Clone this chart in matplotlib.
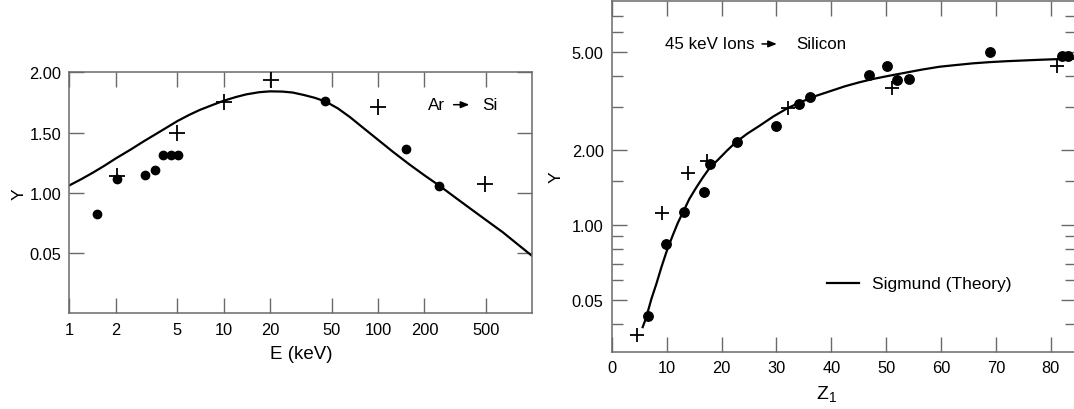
import matplotlib
matplotlib.use("Agg")
import matplotlib.pyplot as plt
from matplotlib.ticker import FixedLocator, FixedFormatter, NullFormatter

plt.rcParams["font.family"] = ["Liberation Sans", "DejaVu Sans"]
plt.rcParams["mathtext.fontset"] = "custom"
plt.rcParams["mathtext.rm"] = "Liberation Sans"

# ---- left panel: Ar -> Si, yield vs energy ----
e_dots = [1.515, 2.04, 3.07, 3.59, 4.03, 4.52, 5.08, 45.4, 151.5, 249]
y_dots = [0.824, 1.115, 1.151, 1.187, 1.314, 1.314, 1.314, 1.759, 1.364, 1.059]
e_plus = [2.03, 5.0, 10, 20.2, 100, 495]
y_plus = [1.142, 1.494, 1.751, 1.939, 1.709, 1.076]
e_curve = [1.0, 1.2, 1.43, 1.7, 2.0, 2.5, 3.0, 4.0, 5.0, 6.0, 7.0, 8.5, 10,
           12, 14, 17, 20, 24, 28, 33, 39, 46, 55, 66, 80, 100, 125, 160,
           200, 250, 310, 390, 500, 645, 800, 1000]
y_curve = [1.062, 1.115, 1.17, 1.228, 1.286, 1.36, 1.424, 1.52, 1.595, 1.648,
           1.688, 1.73, 1.764, 1.795, 1.817, 1.835, 1.842, 1.840, 1.832,
           1.812, 1.788, 1.756, 1.70, 1.627, 1.54, 1.44, 1.34, 1.235, 1.145,
           1.059, 0.97, 0.876, 0.775, 0.672, 0.575, 0.475]
e_ticks = [1, 2, 5, 10, 20, 50, 100, 200, 500]
e_ticklabels = ["1", "2", "5", "10", "20", "50", "100", "200", "500"]
yl_ticks = [0.5, 1.0, 1.5, 2.0]
yl_ticklabels = ["0.05", "1.00", "1.50", "2.00"]

# ---- right panel: 45 keV ions -> Silicon, yield vs Z1 ----
z_dots = [6.56, 9.84, 13.06, 16.77, 17.88, 22.71, 29.95, 34.03, 36.14,
          46.9, 50.1, 51.9, 54.1, 68.9, 82.0, 83.1]
yz_dots = [0.429, 0.839, 1.132, 1.355, 1.756, 2.156, 2.507, 3.077, 3.30,
           4.03, 4.39, 3.836, 3.87, 5.0, 4.80, 4.80]
z_plus = [4.6, 9.2, 13.9, 17.3, 32.1, 51.1, 81.2]
yz_plus = [0.361, 1.115, 1.63, 1.807, 2.98, 3.56, 4.39]
z_curve = [5.6, 6.0, 6.5, 7.2, 8.1, 9.0, 9.9, 11.0, 12.0, 13.0, 14.1, 15.3,
           16.6, 17.8, 19.5, 21.0, 22.6, 24.7, 26.9, 29.4, 32.0, 34.5, 37.2,
           40.0, 42.5, 45.0, 47.5, 50.5, 53.6, 56.6, 59.7, 62.7, 65.8, 68.8,
           71.9, 74.9, 77.9, 81.3, 84.7]
yz_curve = [0.388, 0.41, 0.445, 0.505, 0.58, 0.675, 0.776, 0.90, 1.02, 1.133,
            1.274, 1.41, 1.56, 1.70, 1.85, 2.0, 2.16, 2.34, 2.515, 2.74, 2.96,
            3.14, 3.32, 3.48, 3.63, 3.76, 3.88, 4.0, 4.12, 4.24, 4.35, 4.42,
            4.49, 4.54, 4.58, 4.61, 4.64, 4.67, 4.69]
z_ticks = [0, 10, 20, 30, 40, 50, 60, 70, 80]
yr_ticks = [0.5, 1.0, 2.0, 5.0]
yr_ticklabels = ["0.05", "1.00", "2.00", "5.00"]
yr_minor = [0.4, 0.6, 0.7, 0.8, 0.9, 1.5, 3, 4, 6, 7]

SPINE = "#6a6a6a"
ARROW = dict(arrowstyle="-|>,head_length=0.5,head_width=0.2",
             color="black", lw=1.1, shrinkA=0, shrinkB=0)

fig = plt.figure(figsize=(10.74, 4.10), dpi=100)
ax1 = fig.add_axes([0.0647, 0.2334, 0.4309, 0.5878])
ax2 = fig.add_axes([0.5698, 0.139, 0.4325, 0.8568])

for ax in (ax1, ax2):
    for sp in ax.spines.values():
        sp.set_color(SPINE)
        sp.set_linewidth(1.1)

# left
ax1.plot(e_curve, y_curve, color="black", lw=1.6, zorder=2)
ax1.plot(e_dots, y_dots, "o", color="black", ms=6, zorder=3)
ax1.plot(e_plus, y_plus, "+", color="black", ms=11, mew=1.3, zorder=3)
ax1.set_xscale("log")
ax1.set_xlim(1, 1000)
ax1.set_ylim(0, 2.0)
ax1.xaxis.set_major_locator(FixedLocator(e_ticks))
ax1.xaxis.set_major_formatter(FixedFormatter(e_ticklabels))
ax1.xaxis.set_minor_locator(FixedLocator([]))
ax1.xaxis.set_minor_formatter(NullFormatter())
ax1.yaxis.set_major_locator(FixedLocator(yl_ticks))
ax1.yaxis.set_major_formatter(FixedFormatter(yl_ticklabels))
ax1.tick_params(which="major", direction="in", length=10.5, width=1.0,
                color=SPINE, top=True, right=True, labelsize=11.8, pad=6)
ax1.set_xlabel("E (keV)", fontsize=13.5, labelpad=6)
ax1.set_ylabel("Y", fontsize=12.5, labelpad=2)
ax1.text(0.775, 0.8656, "Ar", transform=ax1.transAxes, fontsize=12.3,
         ha="left", va="center")
ax1.text(0.8907, 0.8656, "Si", transform=ax1.transAxes, fontsize=12.3,
         ha="left", va="center")
ax1.annotate("", xy=(0.864, 0.8656), xytext=(0.830, 0.8656),
             xycoords="axes fraction", arrowprops=ARROW)

# right
ax2.plot(z_curve, yz_curve, color="black", lw=1.6, zorder=2)
ax2.plot(z_dots, yz_dots, "o", color="black", ms=6.8, zorder=3)
ax2.plot(z_plus, yz_plus, "+", color="black", ms=10.5, mew=1.3, zorder=3)
ax2.set_yscale("log")
ax2.set_xlim(0, 84.7)
ax2.set_ylim(0.308, 8.03)
ax2.xaxis.set_major_locator(FixedLocator(z_ticks))
ax2.yaxis.set_major_locator(FixedLocator(yr_ticks))
ax2.yaxis.set_major_formatter(FixedFormatter(yr_ticklabels))
ax2.yaxis.set_minor_locator(FixedLocator(yr_minor))
ax2.yaxis.set_minor_formatter(NullFormatter())
ax2.tick_params(which="major", direction="in", length=11, width=1.0,
                color=SPINE, top=True, right=True, labelsize=11.8, pad=6)
ax2.tick_params(which="minor", direction="in", length=8, width=1.0,
                color=SPINE, right=True)
ax2.set_xlabel("Z$_1$", fontsize=14)
ax2.xaxis.set_label_coords(0.461, -0.09)
ax2.set_ylabel("Y", fontsize=12.5, labelpad=6)
ax2.text(0.114, 0.877, "45 keV Ions", transform=ax2.transAxes,
         fontsize=12.2, ha="left", va="center")
ax2.text(0.3976, 0.877, "Silicon", transform=ax2.transAxes,
         fontsize=12.2, ha="left", va="center")
ax2.annotate("", xy=(0.355, 0.877), xytext=(0.323, 0.877),
             xycoords="axes fraction", arrowprops=ARROW)
ax2.plot([0.463, 0.532], [0.1956, 0.1956], color="black", lw=1.6,
         transform=ax2.transAxes)
ax2.text(0.56, 0.1956, "Sigmund (Theory)", transform=ax2.transAxes,
         fontsize=12.5, ha="left", va="center")

fig.savefig("out.png", dpi=100)
